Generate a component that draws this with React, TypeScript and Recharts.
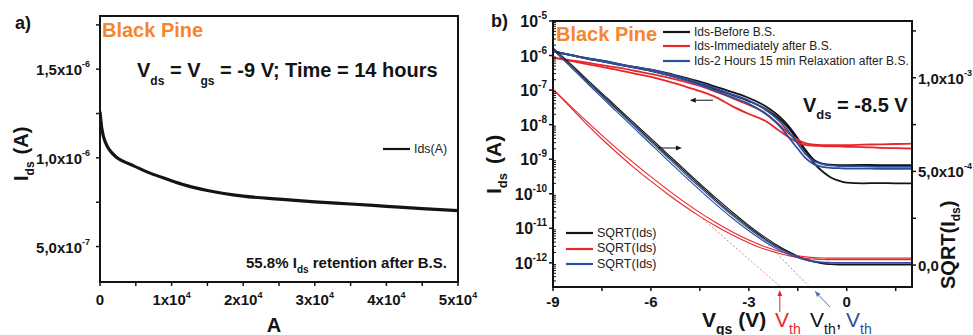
import React from 'react';
import { LineChart, Line, XAxis, YAxis, ReferenceArea, ReferenceLine, Legend } from 'recharts';

const FONT = '"Liberation Sans", Arial, Helvetica, sans-serif';
const INK = '#141414';
const RED = '#e8262b';
const BLUE = '#2d4f9e';
const ORANGE = '#f5862f';

// ---- (a) drain current under constant bias stress ----
const stressTime = [0, 250, 500, 1000, 1600, 2300, 3500, 4700, 7000, 9300, 12000, 15000, 20000, 25000, 30000, 35000, 40000, 45000, 50000];
const stressIds = [1.26e-6, 1.167e-6, 1.118e-6, 1.066e-6, 1.031e-6, 1.004e-6, 0.976e-6, 0.955e-6, 0.914e-6, 0.881e-6, 0.845e-6, 0.816e-6, 0.784e-6, 0.767e-6, 0.752e-6, 0.74e-6, 0.727e-6, 0.714e-6, 0.703e-6];

const xTicksA = [0, 5000, 10000, 15000, 20000, 25000, 30000, 35000, 40000, 45000, 50000];
const xMajorA = [0, 10000, 20000, 30000, 40000, 50000];
const xMantA = ['0', '1x10', '2x10', '3x10', '4x10', '5x10'];
const xExpA = ['', '4', '4', '4', '4', '4'];
const yTicksA = [5e-7, 7.5e-7, 1e-6, 1.25e-6, 1.5e-6, 1.75e-6];
const yMajorA = [5e-7, 1e-6, 1.5e-6];
const yMantA = ['5,0x10', '1,0x10', '1,5x10'];
const yExpA = ['-7', '-6', '-6'];
const domainXA = [0, 50000];
const domainYA = [3e-7, 1.8e-6];

// ---- (b) transfer curves, Vds = -8.5 V ----
const vgs = [-9, -8.5, -8, -7.5, -7, -6.5, -6, -5.5, -5, -4.5, -4, -3.5, -3, -2.5, -2, -1.75, -1.5, -1.25, -1, -0.75, -0.5, -0.25, 0, 0.5, 1, 1.5, 2];

const idsBeforeFwd = [1.32e-6, 1.07e-6, 8.51e-7, 7.08e-7, 5.75e-7, 4.68e-7, 3.89e-7, 3.1e-7, 2.35e-7, 1.75e-7, 1.24e-7, 8.7e-8, 5.9e-8, 3.47e-8, 1.51e-8, 8.32e-9, 3.98e-9, 1.78e-9, 9.55e-10, 7.41e-10, 6.92e-10, 6.76e-10, 6.76e-10, 6.8e-10, 6.76e-10, 6.72e-10, 6.76e-10];
const idsBeforeRev = [1.32e-6, 1.05e-6, 8.32e-7, 6.76e-7, 5.5e-7, 4.47e-7, 3.63e-7, 2.8e-7, 2.1e-7, 1.52e-7, 1.05e-7, 7.2e-8, 4.8e-8, 2.9e-8, 1.3e-8, 7.3e-9, 3.5e-9, 1.66e-9, 7.59e-10, 4.47e-10, 3.02e-10, 2.4e-10, 2.09e-10, 2.0e-10, 2.04e-10, 2.0e-10, 2.0e-10];
const idsAfterFwd = [8.91e-7, 7.41e-7, 6.31e-7, 5.25e-7, 4.47e-7, 3.63e-7, 2.95e-7, 2.34e-7, 1.78e-7, 1.32e-7, 8.91e-8, 5.89e-8, 3.72e-8, 2.19e-8, 8.71e-9, 5.37e-9, 3.63e-9, 2.88e-9, 2.63e-9, 2.57e-9, 2.57e-9, 2.57e-9, 2.57e-9, 2.63e-9, 2.69e-9, 2.75e-9, 2.82e-9];
const idsAfterRev = [8.71e-7, 7.08e-7, 5.75e-7, 4.68e-7, 3.8e-7, 3.02e-7, 2.4e-7, 1.82e-7, 1.32e-7, 9.33e-8, 6.17e-8, 3.39e-8, 2.04e-8, 1.29e-8, 6.03e-9, 4.17e-9, 3.02e-9, 2.57e-9, 2.45e-9, 2.4e-9, 2.34e-9, 2.34e-9, 2.29e-9, 2.24e-9, 2.14e-9, 2.09e-9, 2.04e-9];
const idsRelaxFwd = [1.32e-6, 1.07e-6, 8.51e-7, 7.08e-7, 5.75e-7, 4.68e-7, 3.89e-7, 3.02e-7, 2.24e-7, 1.62e-7, 1.1e-7, 7.41e-8, 5.01e-8, 2.75e-8, 1.1e-8, 5.75e-9, 2.82e-9, 1.38e-9, 8.71e-10, 7.24e-10, 6.61e-10, 6.31e-10, 6.17e-10, 6.17e-10, 6.03e-10, 6.03e-10, 6.03e-10];
const idsRelaxRev = [1.32e-6, 1.05e-6, 8.32e-7, 6.76e-7, 5.5e-7, 4.47e-7, 3.63e-7, 2.75e-7, 2.0e-7, 1.41e-7, 9.33e-8, 6.17e-8, 3.98e-8, 2.09e-8, 7.94e-9, 3.98e-9, 2.0e-9, 1.05e-9, 7.08e-10, 6.03e-10, 5.62e-10, 5.5e-10, 5.37e-10, 5.37e-10, 5.25e-10, 5.25e-10, 5.25e-10];

const sqrtBeforeFwd = [1.16e-3, 1.08e-3, 9.98e-4, 9.17e-4, 8.37e-4, 7.56e-4, 6.76e-4, 5.95e-4, 5.15e-4, 4.35e-4, 3.57e-4, 2.82e-4, 2.12e-4, 1.48e-4, 9.3e-5, 7.0e-5, 4.9e-5, 3.2e-5, 1.9e-5, 1.0e-5, 5e-6, 3e-6, 3e-6, 3e-6, 3e-6, 3e-6, 3e-6];
const sqrtBeforeRev = [1.15e-3, 1.07e-3, 9.9e-4, 9.08e-4, 8.28e-4, 7.47e-4, 6.66e-4, 5.85e-4, 5.05e-4, 4.25e-4, 3.47e-4, 2.72e-4, 2.03e-4, 1.4e-4, 8.7e-5, 6.5e-5, 4.5e-5, 2.9e-5, 1.6e-5, 8e-6, 3e-6, 1e-6, 1e-6, 1e-6, 1e-6, 1e-6, 1e-6];
const sqrtAfterFwd = [9.4e-4, 8.55e-4, 7.72e-4, 6.92e-4, 6.15e-4, 5.42e-4, 4.72e-4, 4.04e-4, 3.4e-4, 2.8e-4, 2.26e-4, 1.77e-4, 1.34e-4, 9.8e-5, 7.0e-5, 5.9e-5, 5.0e-5, 4.4e-5, 4.0e-5, 3.8e-5, 3.7e-5, 3.7e-5, 3.7e-5, 3.7e-5, 3.7e-5, 3.7e-5, 3.7e-5];
const sqrtAfterRev = [9.38e-4, 8.48e-4, 7.58e-4, 6.73e-4, 5.93e-4, 5.18e-4, 4.48e-4, 3.81e-4, 3.18e-4, 2.6e-4, 2.07e-4, 1.6e-4, 1.18e-4, 8.4e-5, 5.9e-5, 4.9e-5, 4.1e-5, 3.5e-5, 3.2e-5, 3.0e-5, 2.9e-5, 2.9e-5, 2.9e-5, 2.9e-5, 2.9e-5, 2.9e-5, 2.9e-5];
const sqrtRelaxFwd = [1.15e-3, 1.07e-3, 9.85e-4, 9.03e-4, 8.22e-4, 7.4e-4, 6.58e-4, 5.76e-4, 4.95e-4, 4.15e-4, 3.38e-4, 2.64e-4, 1.95e-4, 1.33e-4, 8.2e-5, 6.2e-5, 4.5e-5, 3.1e-5, 2.1e-5, 1.6e-5, 1.4e-5, 1.3e-5, 1.3e-5, 1.3e-5, 1.3e-5, 1.3e-5, 1.3e-5];
const sqrtRelaxRev = [1.15e-3, 1.065e-3, 9.78e-4, 8.94e-4, 8.11e-4, 7.28e-4, 6.45e-4, 5.62e-4, 4.8e-4, 4.0e-4, 3.23e-4, 2.5e-4, 1.83e-4, 1.23e-4, 7.4e-5, 5.5e-5, 3.9e-5, 2.6e-5, 1.7e-5, 1.3e-5, 1.1e-5, 1.0e-5, 1.0e-5, 1.0e-5, 1.0e-5, 1.0e-5, 1.0e-5];

// linear fits of SQRT(Ids) down to the threshold voltage
const fitAfterV = [-4.5, -2.05];
const fitAfterS = [2.6e-4, -1.12e-4];
const fitRelaxV = [-2.4, -1.18];
const fitRelaxS = [1.07e-4, -1.1e-4];

const idsLegendKeys = ['idsBeforeFwd', 'idsAfterFwd', 'idsRelaxFwd'];
const sqrtLegendKeys = ['sqrtBeforeFwd', 'sqrtAfterFwd', 'sqrtRelaxFwd'];

const xTicksB = [-9, -7.5, -6, -4.5, -3, -1.5, 0, 1.5];
const xMajorB = [-9, -6, -3, 0];
const logDecades = [-12, -11, -10, -9, -8, -7, -6, -5];
const sqrtTicks = [0, 2.5e-4, 5e-4, 7.5e-4, 1e-3, 1.25e-3];
const sqrtMajor = [0, 5e-4, 1e-3];
const sqrtMant = ['0,0', '5,0x10', '1,0x10'];
const sqrtExp = ['', '-4', '-3'];
const domainXB = [-9, 2];
const domainLog = [2e-13, 1e-5];
const domainSqrt = [-1.17e-4, 1.303e-3];

const logTicks: number[] = [2e-13, 3e-13, 4e-13, 5e-13, 6e-13, 7e-13, 8e-13, 9e-13];
logDecades.forEach((e) => {
  const base = Math.pow(10, e);
  if (e === -5) { logTicks.push(base); return; }
  for (let m = 1; m <= 9; m++) logTicks.push(m * base);
});

const stressRows = stressTime.map((t, i) => ({ t, ids: stressIds[i] }));
const transferRows = vgs.map((v, i) => ({
  v,
  idsBeforeFwd: idsBeforeFwd[i], idsBeforeRev: idsBeforeRev[i],
  idsAfterFwd: idsAfterFwd[i], idsAfterRev: idsAfterRev[i],
  idsRelaxFwd: idsRelaxFwd[i], idsRelaxRev: idsRelaxRev[i],
  sqrtBeforeFwd: sqrtBeforeFwd[i], sqrtBeforeRev: sqrtBeforeRev[i],
  sqrtAfterFwd: sqrtAfterFwd[i], sqrtAfterRev: sqrtAfterRev[i],
  sqrtRelaxFwd: sqrtRelaxFwd[i], sqrtRelaxRev: sqrtRelaxRev[i],
}));
const fitAfterRows = fitAfterV.map((v, i) => ({ v, s: fitAfterS[i] }));
const fitRelaxRows = fitRelaxV.map((v, i) => ({ v, s: fitRelaxS[i] }));

// arrow annotations (data units on the SQRT axis)
const idsArrow = [{ x: -4.1, y: 8.8e-4 }, { x: -4.81, y: 8.8e-4 }];
const sqrtArrow = [{ x: -5.78, y: 6.25e-4 }, { x: -5.05, y: 6.25e-4 }];
const vthAfterArrow = [{ x: -2.05, y: -2.5e-4 }, { x: -2.05, y: -1.33e-4 }];
const vthRelaxArrow = [{ x: -0.51, y: -2.24e-4 }, { x: -0.98, y: -1.39e-4 }];

const near = (a: number, b: number) => Math.abs(a - b) <= Math.abs(b) * 1e-6 + 1e-15;

const arrowShape = (color: string) => (props: any) => {
  const { x1, y1, x2, y2 } = props;
  const a = Math.atan2(y2 - y1, x2 - x1);
  const len = 6;
  const half = 2.4;
  const bx = x2 - len * Math.cos(a);
  const by = y2 - len * Math.sin(a);
  const pts = `${x2},${y2} ${bx + half * Math.sin(a)},${by - half * Math.cos(a)} ${bx - half * Math.sin(a)},${by + half * Math.cos(a)}`;
  return (
    <g>
      <line x1={x1} y1={y1} x2={bx} y2={by} stroke={color} strokeWidth={1} />
      <polygon points={pts} fill={color} />
    </g>
  );
};

const boldTick = { fontFamily: FONT, fontWeight: 700, fill: INK } as const;

const StressXTick = ({ x, y, payload }: any) => {
  const i = xMajorA.findIndex((t) => near(payload.value, t));
  if (i < 0) return <g />;
  return (
    <text x={x} y={y + 15} textAnchor="middle" fontSize={15} {...boldTick}>
      {xMantA[i]}
      {xExpA[i] && <tspan dy={-7} fontSize={9}>{xExpA[i]}</tspan>}
    </text>
  );
};

const StressYTick = ({ x, y, payload }: any) => {
  const i = yMajorA.findIndex((t) => near(payload.value, t));
  if (i < 0) return <g />;
  return (
    <text x={x} y={y + 6} textAnchor="end" fontSize={15} {...boldTick}>
      {yMantA[i]}
      <tspan dy={-8} fontSize={9}>{yExpA[i]}</tspan>
    </text>
  );
};

const VgsTick = ({ x, y, payload }: any) => {
  if (!xMajorB.some((t) => near(payload.value, t))) return <g />;
  return (
    <text x={x} y={y + 12} textAnchor="middle" fontSize={15} {...boldTick}>
      {String(payload.value)}
    </text>
  );
};

// log axis: labelled decades with outer ticks, minor ticks inside the frame
const LogTick = ({ x, y, payload }: any) => {
  const v = payload.value;
  const e = Math.round(Math.log10(v));
  const major = near(v, Math.pow(10, e));
  const ax = x + 5;
  return (
    <g>
      {major ? (
        <line x1={ax} x2={ax - 4} y1={y} y2={y} stroke={INK} strokeWidth={1.5} />
      ) : (
        <line x1={ax} x2={ax + 3} y1={y} y2={y} stroke={INK} strokeWidth={1} />
      )}
      {major && (
        <text x={x - 1} y={y + 6} textAnchor="end" fontSize={16} {...boldTick}>
          10<tspan dy={-8} fontSize={10}>{String(e)}</tspan>
        </text>
      )}
    </g>
  );
};

const SqrtTick = ({ x, y, payload }: any) => {
  const i = sqrtMajor.findIndex((t) => near(payload.value, t));
  if (i < 0) return <g />;
  return (
    <text x={x} y={y + 6} textAnchor="start" fontSize={15} {...boldTick}>
      {sqrtMant[i]}
      {sqrtExp[i] && <tspan dy={-8} fontSize={9}>{sqrtExp[i]}</tspan>}
    </text>
  );
};

const LegendRow = ({ color, label, height, size, gap }: any) => (
  <div style={{ display: 'flex', alignItems: 'center', height, whiteSpace: 'nowrap' }}>
    <svg width={27} height={4} style={{ display: 'block' }}>
      <line x1={0} x2={27} y1={2} y2={2} stroke={color} strokeWidth={2.2} />
    </svg>
    <span style={{ marginLeft: gap, fontSize: size, color: '#222', lineHeight: 1 }}>{label}</span>
  </div>
);

const StressLegend = ({ payload }: any) => (
  <div style={{ fontFamily: FONT }}>
    {(payload || []).map((p: any) => (
      <LegendRow key={p.value} color={p.color} label={p.value} height={14} size={12.4} gap={4} />
    ))}
  </div>
);

const pick = (items: any[], keys: string[]) =>
  keys.map((k) => items.find((p: any) => p.dataKey === k)).filter(Boolean);

const TransferLegend = ({ payload }: any) => {
  const items = payload || [];
  const ids = pick(items, idsLegendKeys);
  const sq = pick(items, sqrtLegendKeys);
  return (
    <div style={{ fontFamily: FONT, position: 'relative' }}>
      <div style={{ position: 'absolute', left: 183, top: 24.3 }}>
        {ids.map((p: any) => (
          <LegendRow key={p.dataKey} color={p.color} label={p.value} height={14.5} size={12} gap={4} />
        ))}
      </div>
      <div style={{ position: 'absolute', left: 86, top: 225 }}>
        {sq.map((p: any) => (
          <LegendRow key={p.dataKey} color={p.color} label={p.value} height={15.7} size={12.5} gap={4} />
        ))}
      </div>
    </div>
  );
};

const StressChart = () => (
  <LineChart width={480} height={335} data={stressRows} margin={{ top: 16, right: 22, bottom: 0, left: 0 }}>
    <XAxis
      dataKey="t" type="number" domain={domainXA} ticks={xTicksA} interval={0} height={53}
      allowDataOverflow tickSize={4} tickMargin={4} tick={StressXTick}
      axisLine={{ stroke: INK, strokeWidth: 2 }} tickLine={{ stroke: INK, strokeWidth: 1.5 }}
    />
    <YAxis
      type="number" domain={domainYA} ticks={yTicksA} interval={0} width={100}
      allowDataOverflow tickSize={4} tickMargin={6} tick={StressYTick}
      axisLine={{ stroke: INK, strokeWidth: 2 }} tickLine={{ stroke: INK, strokeWidth: 1.5 }}
    />
    <ReferenceArea x1={domainXA[0]} x2={domainXA[1]} y1={domainYA[0]} y2={domainYA[1]} fill="none" stroke={INK} strokeWidth={2} />
    <Legend layout="vertical" align="center" verticalAlign="middle" wrapperStyle={{ left: 383, top: 142 }} content={StressLegend} />
    <Line dataKey="ids" name="Ids(A)" type="monotone" stroke={INK} strokeWidth={3.2} dot={false} isAnimationActive={false} />
  </LineChart>
);

const idsLine = { type: 'monotone' as const, yAxisId: 'log', strokeWidth: 1.8, dot: false, isAnimationActive: false };
const sqrtLine = { type: 'monotone' as const, yAxisId: 'sqrt', strokeWidth: 1.1, dot: false, isAnimationActive: false };

const TransferChart = () => (
  <LineChart width={493} height={335} data={transferRows} margin={{ top: 21, right: 0, bottom: 0, left: 0 }}>
    <XAxis
      dataKey="v" type="number" domain={domainXB} ticks={xTicksB} interval={0} height={48}
      allowDataOverflow tickSize={4} tickMargin={4} tick={VgsTick}
      axisLine={{ stroke: INK, strokeWidth: 2 }} tickLine={{ stroke: INK, strokeWidth: 1.5 }}
    />
    <YAxis
      yAxisId="log" scale="log" type="number" domain={domainLog} ticks={logTicks} interval={0} width={73}
      allowDataOverflow tickSize={0} tickMargin={5} tickLine={false} tick={LogTick}
      axisLine={{ stroke: INK, strokeWidth: 2 }}
    />
    <YAxis
      yAxisId="sqrt" orientation="right" type="number" domain={domainSqrt} ticks={sqrtTicks} interval={0} width={61}
      allowDataOverflow tickSize={4} tickMargin={2} tick={SqrtTick}
      axisLine={{ stroke: INK, strokeWidth: 2 }} tickLine={{ stroke: INK, strokeWidth: 1.5 }}
    />
    <ReferenceArea yAxisId="sqrt" x1={domainXB[0]} x2={domainXB[1]} y1={domainSqrt[0]} y2={domainSqrt[1]} fill="none" stroke={INK} strokeWidth={2} />
    <Legend layout="vertical" align="center" verticalAlign="middle" wrapperStyle={{ left: 0, top: 0 }} content={TransferLegend} />

    <Line {...idsLine} dataKey="idsBeforeFwd" name="Ids-Before B.S." stroke={INK} />
    <Line {...idsLine} dataKey="idsBeforeRev" legendType="none" stroke={INK} />
    <Line {...idsLine} dataKey="idsAfterFwd" name="Ids-Immediately after B.S." stroke={RED} />
    <Line {...idsLine} dataKey="idsAfterRev" legendType="none" stroke={RED} />
    <Line {...idsLine} dataKey="idsRelaxFwd" name="Ids-2 Hours 15 min Relaxation after B.S." stroke={BLUE} />
    <Line {...idsLine} dataKey="idsRelaxRev" legendType="none" stroke={BLUE} />

    <Line {...sqrtLine} dataKey="sqrtBeforeFwd" name="SQRT(Ids)" stroke={INK} />
    <Line {...sqrtLine} dataKey="sqrtBeforeRev" legendType="none" stroke={INK} />
    <Line {...sqrtLine} dataKey="sqrtAfterFwd" name="SQRT(Ids)" stroke={RED} />
    <Line {...sqrtLine} dataKey="sqrtAfterRev" legendType="none" stroke={RED} />
    <Line {...sqrtLine} dataKey="sqrtRelaxFwd" name="SQRT(Ids)" stroke={BLUE} />
    <Line {...sqrtLine} dataKey="sqrtRelaxRev" legendType="none" stroke={BLUE} />

    <Line data={fitAfterRows} dataKey="s" yAxisId="sqrt" type="linear" legendType="none" stroke="#f07a7c" strokeWidth={1} strokeDasharray="2 2" dot={false} isAnimationActive={false} />
    <Line data={fitRelaxRows} dataKey="s" yAxisId="sqrt" type="linear" legendType="none" stroke="#7b93cc" strokeWidth={1} strokeDasharray="2 2" dot={false} isAnimationActive={false} />

    <ReferenceLine yAxisId="sqrt" segment={idsArrow} ifOverflow="visible" shape={arrowShape(INK)} />
    <ReferenceLine yAxisId="sqrt" segment={sqrtArrow} ifOverflow="visible" shape={arrowShape(INK)} />
    <ReferenceLine yAxisId="sqrt" segment={vthAfterArrow} ifOverflow="visible" shape={arrowShape(RED)} />
    <ReferenceLine yAxisId="sqrt" segment={vthRelaxArrow} ifOverflow="visible" shape={arrowShape('#5873bd')} />
  </LineChart>
);

const Titles = () => (
  <svg width={973} height={335} style={{ position: 'absolute', left: 0, top: 0, pointerEvents: 'none' }} fontFamily={FONT}>
    {/* panel a */}
    <text x={15} y={29} fontSize={18} fontWeight={700} fill={INK}>a)</text>
    <text x={102} y={36.5} fontSize={20} fontWeight={700} fill={ORANGE}>Black Pine</text>
    <text x={137} y={77} fontSize={20} fontWeight={700} fill={INK}>
      V<tspan dy={8} fontSize={12}>ds</tspan>
      <tspan dy={-8}> = V</tspan>
      <tspan dy={8} fontSize={12}>gs</tspan>
      <tspan dy={-8}> = -9 V; Time = 14 hours</tspan>
    </text>
    <text x={246} y={268} fontSize={15} fontWeight={700} fill={INK}>
      55.8% I<tspan dy={5} fontSize={10}>ds</tspan>
      <tspan dy={-5}> retention after B.S.</tspan>
    </text>
    <text x={274} y={332} fontSize={20} fontWeight={700} fill={INK} textAnchor="middle">A</text>
    <text transform="translate(28,181) rotate(-90)" fontSize={20} fontWeight={700} fill={INK}>
      I<tspan dy={6} fontSize={12}>ds</tspan>
      <tspan dy={-6} dx={7}>(A)</tspan>
    </text>

    {/* panel b */}
    <text x={491} y={27} fontSize={18} fontWeight={700} fill={INK}>b)</text>
    <text x={556} y={41} fontSize={20} fontWeight={700} fill={ORANGE}>Black Pine</text>
    <text x={803} y={112} fontSize={20} fontWeight={700} fill={INK}>
      V<tspan dy={7} fontSize={13}>ds</tspan>
      <tspan dy={-7}> = -8.5 V</tspan>
    </text>
    <text transform="translate(501,194) rotate(-90)" fontSize={21} fontWeight={700} fill={INK}>
      I<tspan dy={6} fontSize={13}>ds</tspan>
      <tspan dy={-6} dx={9}>(A)</tspan>
    </text>
    <text transform="translate(955,289) rotate(-90)" fontSize={20} fontWeight={700} fill={INK}>
      SQRT(I<tspan dy={5} fontSize={12}>ds</tspan>
      <tspan dy={-5}>)</tspan>
    </text>
    <text x={702} y={327} fontSize={21} fontWeight={700} fill={INK}>
      V<tspan dy={7} fontSize={14}>gs</tspan>
      <tspan dy={-7}> (V)</tspan>
    </text>
    <text x={775} y={327} fontSize={21} fill={RED}>
      V<tspan dy={7} fontSize={14}>th</tspan>
    </text>
    <text x={810} y={327} fontSize={21} fill={INK}>
      V<tspan dy={7} fontSize={14}>th</tspan>
      <tspan dy={-7}>,</tspan>
    </text>
    <text x={846} y={327} fontSize={21} fill={BLUE}>
      V<tspan dy={7} fontSize={14}>th</tspan>
    </text>
  </svg>
);

export default function App() {
  return (
    <div style={{ position: 'absolute', left: 0, top: 0, width: 973, height: 335, overflow: 'hidden', background: '#fff', fontFamily: FONT }}>
      <div style={{ position: 'absolute', left: 0, top: 0 }}>
        <StressChart />
      </div>
      <div style={{ position: 'absolute', left: 480, top: 0 }}>
        <TransferChart />
      </div>
      <Titles />
    </div>
  );
}
